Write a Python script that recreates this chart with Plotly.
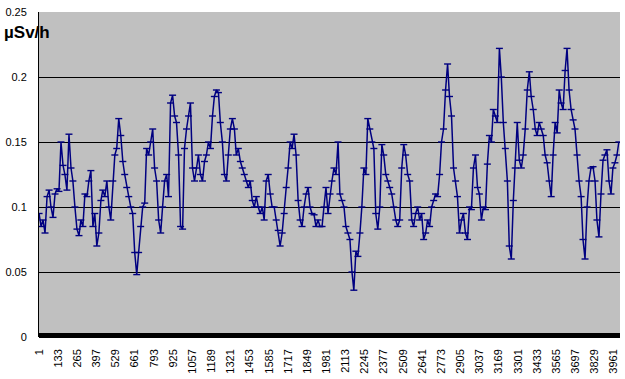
import plotly.graph_objects as go

# Dose-rate readings (µSv/h), sampled along the measurement sequence
values = [
    0.095, 0.085, 0.09, 0.08, 0.108, 0.113, 0.1, 0.092, 0.11, 0.114,
    0.112, 0.15, 0.132, 0.125, 0.113, 0.156, 0.13, 0.12, 0.1, 0.083,
    0.078, 0.09, 0.085, 0.11, 0.108, 0.12, 0.128, 0.085, 0.095, 0.07,
    0.08, 0.105, 0.113, 0.108, 0.12, 0.1, 0.09, 0.12, 0.14, 0.145,
    0.168, 0.155, 0.135, 0.125, 0.115, 0.108, 0.1, 0.095, 0.065, 0.048,
    0.065, 0.085, 0.1, 0.103, 0.145, 0.14, 0.15, 0.16, 0.13, 0.12,
    0.09, 0.08, 0.1, 0.12, 0.125, 0.108, 0.18, 0.186, 0.17, 0.165,
    0.14, 0.085, 0.083, 0.145, 0.16, 0.17, 0.18, 0.13, 0.12, 0.13,
    0.14, 0.125, 0.12, 0.135, 0.14, 0.15, 0.145, 0.17, 0.185, 0.19,
    0.188, 0.165, 0.15, 0.125, 0.12, 0.14, 0.16, 0.168, 0.16, 0.14,
    0.145, 0.135, 0.13, 0.125, 0.12, 0.115, 0.12, 0.105, 0.1, 0.108,
    0.1, 0.095, 0.1, 0.09, 0.12, 0.125, 0.11, 0.1, 0.1, 0.09,
    0.082, 0.07, 0.08, 0.095, 0.115, 0.13, 0.15, 0.145, 0.156, 0.14,
    0.105, 0.09, 0.085, 0.1, 0.11, 0.115, 0.1, 0.095, 0.094, 0.085,
    0.09, 0.085, 0.085, 0.1, 0.115, 0.095, 0.11, 0.12, 0.13, 0.125,
    0.15, 0.11, 0.105, 0.1, 0.085, 0.08, 0.075, 0.05, 0.036, 0.066,
    0.062, 0.08, 0.1, 0.13, 0.125, 0.168, 0.16, 0.15, 0.145, 0.095,
    0.083, 0.1, 0.148, 0.14, 0.125, 0.12, 0.115, 0.11, 0.1, 0.09,
    0.085, 0.09, 0.13, 0.148, 0.14, 0.125, 0.12, 0.09, 0.085, 0.095,
    0.1, 0.09, 0.095, 0.075, 0.08, 0.09, 0.085, 0.1, 0.105, 0.11,
    0.108, 0.125, 0.15, 0.16, 0.19, 0.21, 0.185, 0.17, 0.13, 0.12,
    0.108, 0.08, 0.09, 0.095, 0.08, 0.075, 0.1, 0.098, 0.13, 0.14,
    0.115, 0.11, 0.09, 0.1, 0.098, 0.133, 0.155, 0.15, 0.175, 0.17,
    0.165, 0.222, 0.2, 0.165, 0.145, 0.12, 0.07, 0.06, 0.105, 0.13,
    0.165, 0.136, 0.13, 0.14, 0.16, 0.19, 0.204, 0.185, 0.175, 0.16,
    0.155, 0.165, 0.16, 0.155, 0.14, 0.134, 0.12, 0.108, 0.14, 0.165,
    0.157, 0.19, 0.18, 0.175, 0.205, 0.222, 0.19, 0.175, 0.167, 0.16,
    0.14, 0.12, 0.108, 0.075, 0.06, 0.1, 0.12, 0.13, 0.131, 0.12,
    0.09, 0.077, 0.11, 0.136, 0.14, 0.144, 0.12, 0.11, 0.13, 0.134,
    0.14, 0.15,
]

# measurement number of each sampled reading (about 4000 readings in total)
reading_step = 13.73
reading_no = [1 + round(i * reading_step) for i in range(len(values))]
total_readings = 4004

tick_labels = [str(v) for v in range(1, 3962, 132)]
tick_positions = [int(t) for t in tick_labels]

y_ticks = [0, 0.05, 0.1, 0.15, 0.2, 0.25]
y_tick_text = ["0", "0.05", "0.1", "0.15", "0.2", "0.25"]

fig = go.Figure()
fig.add_trace(go.Scatter(
    x=reading_no, y=values, mode="lines+markers",
    line=dict(color="#000080", width=1.5),
    marker=dict(symbol="line-ew", size=5, line=dict(color="#000080", width=1.4)),
    showlegend=False,
))

fig.update_layout(
    width=625, height=379,
    margin=dict(l=37, r=5, t=12, b=42),
    paper_bgcolor="white", plot_bgcolor="#C0C0C0",
    font=dict(family="Liberation Sans, Arial, sans-serif", size=11, color="black"),
    xaxis=dict(
        range=[0.5, total_readings], tickmode="array",
        tickvals=tick_positions, ticktext=tick_labels, tickangle=-90,
        showgrid=False, zeroline=False, showline=False, ticks="",
        ticklabelstandoff=9, tickfont=dict(size=11),
    ),
    yaxis=dict(
        range=[0, 0.25], tickmode="array", tickvals=y_ticks, ticktext=y_tick_text,
        showgrid=True, gridcolor="black", gridwidth=1, zeroline=False,
        showline=True, linecolor="black", linewidth=1, ticks="",
        ticklabelstandoff=9, tickfont=dict(size=11),
    ),
    shapes=[dict(type="rect", xref="paper", yref="paper", x0=0, x1=1,
                 y0=-0.003, y1=0.012, fillcolor="black", line=dict(width=0),
                 layer="above")],
    annotations=[dict(text="<b>µSv/h</b>", xref="paper", yref="paper",
                      x=-37 / 583, y=0.938, xanchor="left", yanchor="middle",
                      showarrow=False, font=dict(size=17, color="black"))],
)

fig.write_html(
    "out.html",
    config={"displayModeBar": False},
    post_script="document.body.style.margin='0';document.body.style.overflow='hidden';",
)
